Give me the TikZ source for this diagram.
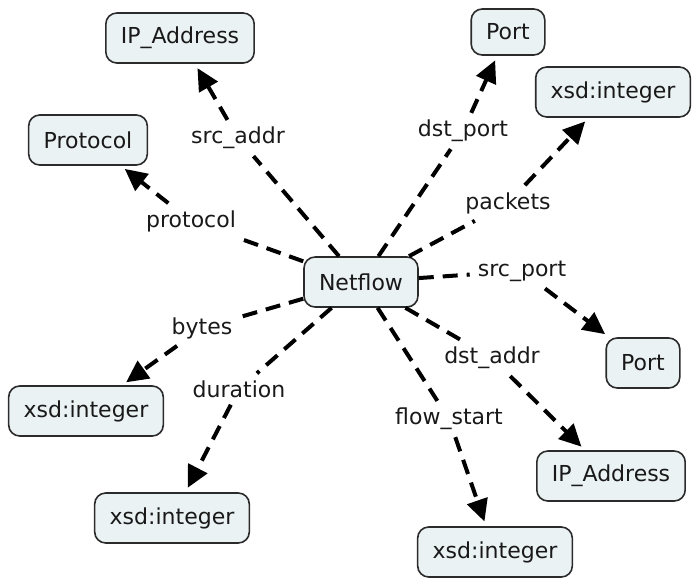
\documentclass[tikz,border=0pt]{standalone}
\usepackage{fontspec}
\setmainfont{DejaVu Sans}
\usetikzlibrary{arrows.meta}
\definecolor{conceptfill}{HTML}{EBF2F4}
\definecolor{conceptline}{HTML}{2B2B2B}
\begin{document}
\begin{tikzpicture}[x=1pt,y=-1pt,
  concept/.style={draw=conceptline, line width=1.6pt, fill=conceptfill,
    rounded corners=11pt, inner xsep=15pt, minimum height=50pt,
    font=\fontsize{22}{26}\selectfont, text=black!90},
  linkphrase/.style={inner xsep=8pt, inner ysep=7pt,
    font=\fontsize{22}{26}\selectfont, text=black!90},
  link/.style={line width=4pt, dash pattern=on 15pt off 9pt, black},
  arrowlink/.style={link, -{Triangle[length=22pt,width=21pt]}, shorten >=5pt}
]
\useasboundingbox (0,0) rectangle (692,579);

% concepts
\node[concept] (net)   at (361,282) {Netflow};
\node[concept] (ipa1)  at (180,38)  {IP\_Address};
\node[concept, minimum height=46pt] (port1) at (508,32) {Port};
\node[concept] (xsd1)  at (613,92)  {xsd:integer};
\node[concept] (proto) at (88,140)  {Protocol};
\node[concept] (port2) at (643,363) {Port};
\node[concept] (xsd2)  at (86,411)  {xsd:integer};
\node[concept] (xsd3)  at (172,518) {xsd:integer};
\node[concept] (ipa2)  at (611,476) {IP\_Address};
\node[concept] (xsd4)  at (495,552) {xsd:integer};

% linking phrases
\node[linkphrase] (lsa) at (238,138) {src\_addr};
\node[linkphrase] (ldp) at (463,131) {dst\_port};
\node[linkphrase] (lpk) at (508,203) {packets};
\node[linkphrase] (lpr) at (191,221) {protocol};
\node[linkphrase] (lsp) at (522,271) {src\_port};
\node[linkphrase] (lby) at (202,328) {bytes};
\node[linkphrase] (lda) at (492,358) {dst\_addr};
\node[linkphrase] (ldu) at (239,389) {duration};
\node[linkphrase] (lfs) at (449,419) {flow\_start};

% connectors: Netflow -> phrase -> concept
\draw[link] (net) -- (lsa);  \draw[arrowlink] (lsa) -- (ipa1);
\draw[link] (net) -- (ldp);  \draw[arrowlink] (ldp) -- (port1);
\draw[link] (net) -- (lpk);  \draw[arrowlink] (lpk) -- (xsd1);
\draw[link] (net) -- (lpr);  \draw[arrowlink] (lpr) -- (proto);
\draw[link] (net) -- (lsp);  \draw[arrowlink] (lsp) -- (port2);
\draw[link] (net) -- (lby);  \draw[arrowlink] (lby) -- (xsd2);
\draw[link] (net) -- (lda);  \draw[arrowlink] (lda) -- (ipa2);
\draw[link] (net) -- (ldu);  \draw[arrowlink] (ldu) -- (xsd3);
\draw[link] (net) -- (lfs);  \draw[arrowlink] (lfs) -- (xsd4);
\end{tikzpicture}
\end{document}
